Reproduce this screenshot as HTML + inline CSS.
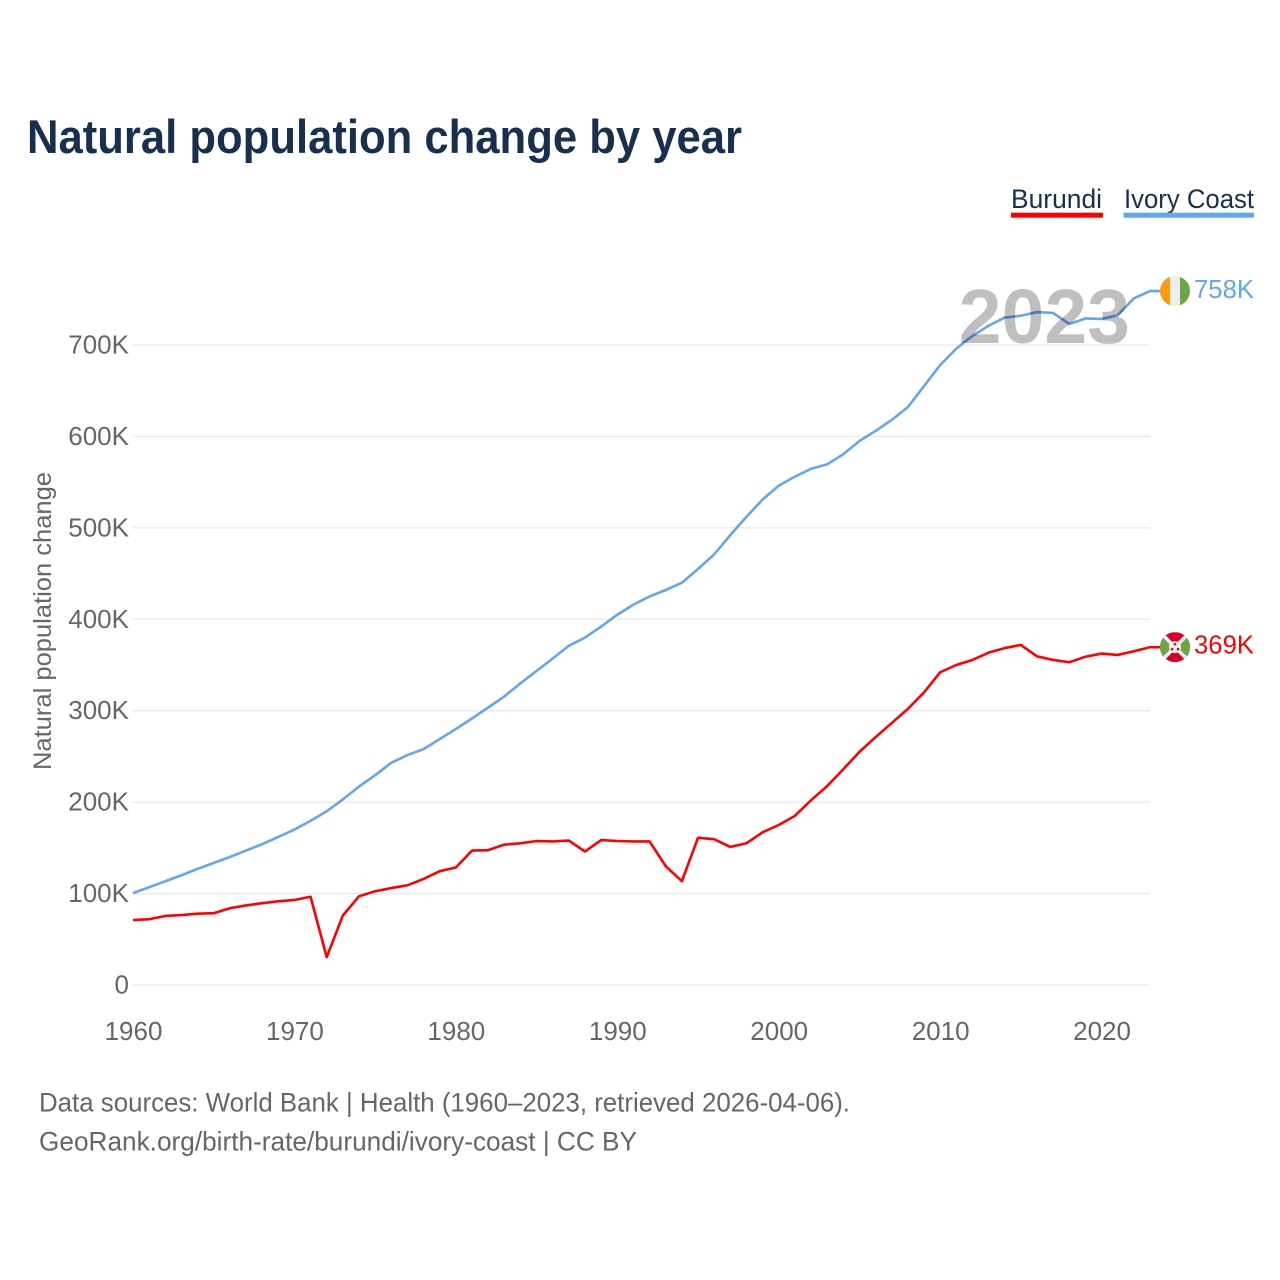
<!DOCTYPE html>
<html lang="en">
<head>
<meta charset="utf-8">
<title>Natural population change by year</title>
<style>
html,body{margin:0;padding:0;background:#fff;}
svg{display:block;font-family:"Liberation Sans",sans-serif;}
</style>
</head>
<body>
<svg id="chart" width="1280" height="1280" viewBox="0 0 1280 1280" xmlns="http://www.w3.org/2000/svg">
  <defs>
    <clipPath id="clip-ivory"><circle id="clip-ivory-circle" r="15"></circle></clipPath>
    <clipPath id="clip-burundi"><circle id="clip-burundi-circle" r="15"></circle></clipPath>
  </defs>
  <text x="27" y="153" font-size="47" font-weight="700" fill="#17304f" textLength="715" lengthAdjust="spacingAndGlyphs">Natural population change by year</text>

  <g>
    <g>
      <text x="1011" y="208" font-size="27" fill="#17304f" textLength="91" lengthAdjust="spacingAndGlyphs">Burundi</text>
      <rect x="1011" y="212.7" width="92" height="5" fill="#ff0000"></rect>
    </g>
    <g>
      <text x="1124" y="208" font-size="27" fill="#17304f" textLength="130" lengthAdjust="spacingAndGlyphs">Ivory Coast</text>
      <rect x="1123.5" y="212.7" width="130.5" height="5" fill="#62a6ee"></rect>
    </g>
  </g>

  <g id="grid"></g>
  <g id="y-ticks"></g>
  <g id="x-ticks"></g>

  <text transform="translate(51 621) rotate(-90)" text-anchor="middle" font-size="25" fill="#666666" textLength="298" lengthAdjust="spacingAndGlyphs">Natural population change</text>

  <g id="series"></g>

  <text x="1130" y="343" text-anchor="end" font-size="77" font-weight="700" fill="#000000" fill-opacity="0.25">2023</text>

  <g id="flag-ivory" clip-path="url(#clip-ivory)"></g>
  <g id="flag-burundi" clip-path="url(#clip-burundi)"></g>
  <g id="end-labels"></g>

  <g>
    <text x="39" y="1111.5" font-size="27" fill="#666666" textLength="811" lengthAdjust="spacingAndGlyphs">Data sources: World Bank | Health (1960–2023, retrieved 2026-04-06).</text>
    <text x="39" y="1150.5" font-size="27" fill="#666666" textLength="598" lengthAdjust="spacingAndGlyphs">GeoRank.org/birth-rate/burundi/ivory-coast | CC BY</text>
  </g>
</svg>
<script>
const years = [1960,1961,1962,1963,1964,1965,1966,1967,1968,1969,1970,1971,1972,1973,1974,1975,1976,1977,1978,1979,1980,1981,1982,1983,1984,1985,1986,1987,1988,1989,1990,1991,1992,1993,1994,1995,1996,1997,1998,1999,2000,2001,2002,2003,2004,2005,2006,2007,2008,2009,2010,2011,2012,2013,2014,2015,2016,2017,2018,2019,2020,2021,2022,2023];
const burundiValues = [71,72,75.5,76.5,78,78.5,84,87,89.5,91.5,93,96.5,30.5,76,97,102.5,106,109,116,124.5,128.5,147,147.5,153.5,155,157.5,157,158,146,158.5,157.5,157,157,130,113.5,161,159.5,151,155,167,175,185,202,217.5,236,255,271,286.5,302,320,342,350,355.5,363.5,368.5,372,359.5,355.5,353,359,362.5,361,365,369.5];
const ivoryValues = [100.5,107,113.5,120,127,133.5,140,147,154,162,170,179.5,190,203,217,229.5,243,251.5,258,269,280,291.5,303.5,315.5,330,343.5,357,371,380,392,405,416,425,432,440,455,471,492,512,531,546,556,564.5,569.5,580.5,595,606,618,632,655,678,696,710,721,730,732,736,735,723,729,728.5,732.5,751,759];
const yTickValues = [0,100,200,300,400,500,600,700];
const yTickLabels = ["0","100K","200K","300K","400K","500K","600K","700K"];
const xTickValues = [1960,1970,1980,1990,2000,2010,2020];
const endLabels = ["369K","758K"];

const NS = "http://www.w3.org/2000/svg";
function xScale(year){ return 133 + (year - 1960) * (1150 - 133) / 63; }
function yScale(v){ return 985 - v * 0.9143; }
function make(tag, parent, attrs){
  const el = document.createElementNS(NS, tag);
  for (const k in attrs) el.setAttribute(k, attrs[k]);
  parent.appendChild(el);
  return el;
}

const grid = document.getElementById("grid");
const yTicks = document.getElementById("y-ticks");
yTickValues.forEach(function(v, i){
  const line = make("line", grid, {x1:133, x2:1150, y1:yScale(v), y2:yScale(v), stroke:"#e9e9e9", "stroke-width":1.3});
  
  
  const t = make("text", yTicks, {x:129, y:yScale(v)+8.5, "text-anchor":"end", "font-size":26, fill:"#666666"});
  
  
  t.textContent = yTickLabels[i];
});

const xTicks = document.getElementById("x-ticks");
xTickValues.forEach(function(year){
  const t = make("text", xTicks, {x:xScale(year)+0.5, y:1040, "text-anchor":"middle", "font-size":26, fill:"#666666"});
  
  
  t.textContent = String(year);
});

const seriesGroup = document.getElementById("series");
function drawSeries(values, color, name){
  const pts = values.map(function(v, i){ return xScale(years[i]).toFixed(2) + "," + yScale(v).toFixed(2); });
  pts.push((xScale(years[years.length - 1]) + 10).toFixed(2) + "," + yScale(values[values.length - 1]).toFixed(2));
  const line = make("polyline", seriesGroup, {points:pts.join(" "), fill:"none", stroke:color, "stroke-width":2.6, "stroke-linejoin":"round"});
  
  
}
drawSeries(ivoryValues, "#62a6ee", "line-ivory-coast");
drawSeries(burundiValues, "#ff0000", "line-burundi");

const flagX = xScale(years[years.length - 1]) + 25;
const ivoryY = yScale(ivoryValues[ivoryValues.length - 1]);
const burundiY = yScale(burundiValues[burundiValues.length - 1]);

const clipI = document.getElementById("clip-ivory-circle");
clipI.setAttribute("cx", flagX);
clipI.setAttribute("cy", ivoryY);
const clipB = document.getElementById("clip-burundi-circle");
clipB.setAttribute("cx", flagX);
clipB.setAttribute("cy", burundiY);

const flagI = document.getElementById("flag-ivory");
make("rect", flagI, {x:flagX-15, y:ivoryY-15, width:10, height:30, fill:"#ff9a12"});
make("rect", flagI, {x:flagX-5, y:ivoryY-15, width:10, height:30, fill:"#eeeeee"});
make("rect", flagI, {x:flagX+5, y:ivoryY-15, width:10, height:30, fill:"#6da544"});

const flagB = document.getElementById("flag-burundi");
const bx = flagX, by = burundiY;
make("rect", flagB, {x:bx-15, y:by-15, width:30, height:30, fill:"#d80027"});
make("polygon", flagB, {points:[bx-15,by-15,bx,by,bx-15,by+15].join(" "), fill:"#6da544"});
make("polygon", flagB, {points:[bx+15,by-15,bx,by,bx+15,by+15].join(" "), fill:"#6da544"});
make("line", flagB, {x1:bx-15, y1:by-15, x2:bx+15, y2:by+15, stroke:"#eeeeee", "stroke-width":3.6});
make("line", flagB, {x1:bx+15, y1:by-15, x2:bx-15, y2:by+15, stroke:"#eeeeee", "stroke-width":3.6});
make("circle", flagB, {cx:bx, cy:by, r:6, fill:"#eeeeee"});
make("circle", flagB, {cx:bx, cy:by-3, r:1.3, fill:"#d80027"});
make("circle", flagB, {cx:bx-3, cy:by+2, r:1.3, fill:"#d80027"});
make("circle", flagB, {cx:bx+3, cy:by+2, r:1.3, fill:"#d80027"});

const endGroup = document.getElementById("end-labels");
const t1 = make("text", endGroup, {x:1194, y:burundiY+6.5, "font-size":26, fill:"#ff0000", textLength:60, lengthAdjust:"spacingAndGlyphs"});


t1.textContent = endLabels[0];
const t2 = make("text", endGroup, {x:1194, y:ivoryY+7, "font-size":26, fill:"#62a6ee", textLength:60, lengthAdjust:"spacingAndGlyphs"});


t2.textContent = endLabels[1];
</script>
</body>
</html>
